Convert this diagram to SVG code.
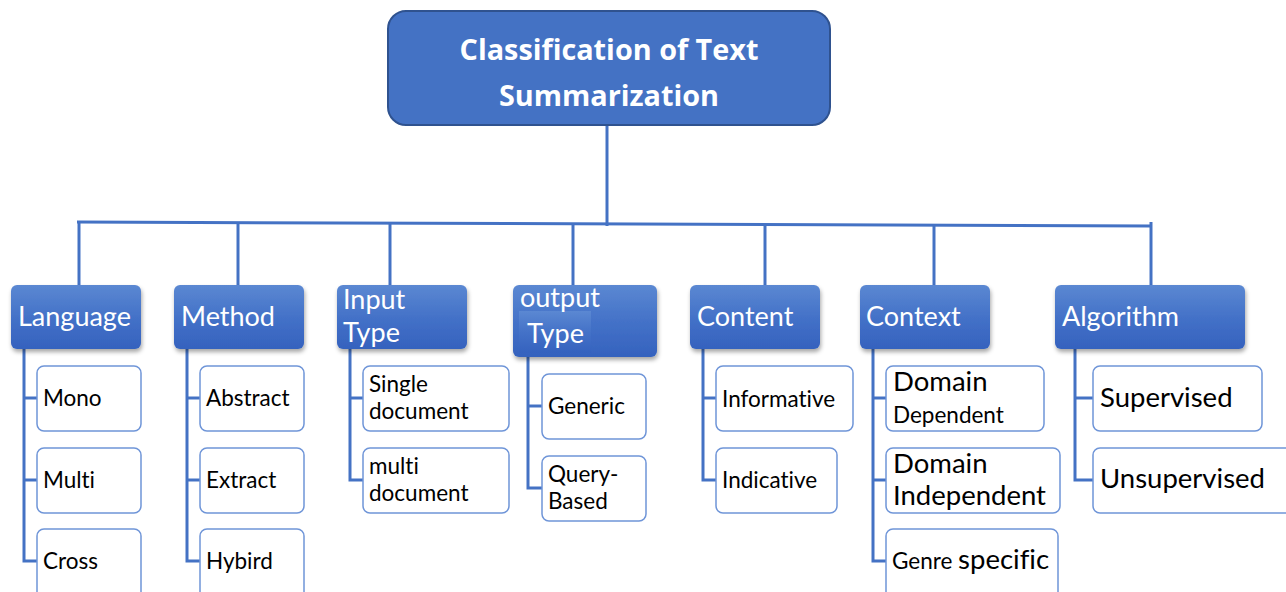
<svg xmlns="http://www.w3.org/2000/svg" width="1286" height="592" viewBox="0 0 1286 592">
  <defs>
    <linearGradient id="hdrGrad" x1="0" y1="0" x2="0" y2="1">
      <stop offset="0" stop-color="#5b88d2"/>
      <stop offset="0.5" stop-color="#4472c8"/>
      <stop offset="1" stop-color="#3562be"/>
    </linearGradient>
    <filter id="shadow" x="-10%" y="-10%" width="130%" height="140%">
      <feDropShadow dx="1" dy="3" stdDeviation="2" flood-color="#000" flood-opacity="0.35"/>
    </filter>
  </defs>
  <style>
    text { font-variant-ligatures: none; }
    .root rect { fill: #4472c4; stroke: #2f528f; stroke-width: 2; }
    .root text { fill: #ffffff; font-family: "Open Sans", "Liberation Sans", sans-serif; font-weight: bold; font-size: 28.8px; text-anchor: middle; }
    .hdr rect { fill: url(#hdrGrad); filter: url(#shadow); }
    .hdr text { fill: #ffffff; font-family: Lato, "Liberation Sans", sans-serif; font-size: 27px; }
    .leaf rect { fill: #ffffff; stroke: #6f95d8; stroke-width: 1.5; }
    .leaf text { fill: #000000; font-family: Lato, "Liberation Sans", sans-serif; font-size: 22.5px; }
    .leaf .big { font-size: 27.5px; }
    .conn line, .conn polyline { stroke: #4472c4; stroke-width: 3; fill: none; }
  </style>
  <rect width="1286" height="592" fill="#ffffff"/>

  <!-- connectors -->
  <g id="connectors" class="conn">
    <line x1="607" y1="125" x2="607" y2="226"/>
    <line x1="77" y1="222" x2="1152" y2="226" stroke-width="4"/>
    <line x1="79" y1="222" x2="79" y2="286"/>
    <line x1="238" y1="223" x2="238" y2="286"/>
    <line x1="390" y1="223" x2="390" y2="286"/>
    <line x1="573" y1="224" x2="573" y2="286"/>
    <line x1="765" y1="225" x2="765" y2="286"/>
    <line x1="934" y1="225" x2="934" y2="286"/>
    <line x1="1151" y1="222" x2="1151" y2="286"/>
    <!-- Language -->
    <polyline points="24,349 24,561 37,561"/>
    <line x1="24" y1="398" x2="37" y2="398"/>
    <line x1="24" y1="480" x2="37" y2="480"/>
    <!-- Method -->
    <polyline points="187,349 187,561 200,561"/>
    <line x1="187" y1="398" x2="200" y2="398"/>
    <line x1="187" y1="480" x2="200" y2="480"/>
    <!-- Input Type -->
    <polyline points="350,349 350,480 363,480"/>
    <line x1="350" y1="398" x2="363" y2="398"/>
    <!-- output Type -->
    <polyline points="528,357 528,488 542,488"/>
    <line x1="528" y1="406" x2="542" y2="406"/>
    <!-- Content -->
    <polyline points="703,349 703,480 716,480"/>
    <line x1="703" y1="398" x2="716" y2="398"/>
    <!-- Context -->
    <polyline points="873,349 873,561 886,561"/>
    <line x1="873" y1="398" x2="886" y2="398"/>
    <line x1="873" y1="480" x2="886" y2="480"/>
    <!-- Algorithm -->
    <polyline points="1075,349 1075,480 1093,480"/>
    <line x1="1075" y1="398" x2="1093" y2="398"/>
  </g>

  <!-- root -->
  <g id="root" class="root">
    <rect x="388" y="11" width="442" height="114" rx="18"/>
    <text x="609" y="60">Classification of Text</text>
    <text x="609" y="106">Summarization</text>
  </g>

  <!-- category headers -->
  <g id="language" class="hdr">
    <rect x="11" y="285" width="130" height="64" rx="6"/>
    <text x="18" y="326">Language</text>
  </g>
  <g id="method" class="hdr">
    <rect x="174" y="285" width="130" height="64" rx="6"/>
    <text x="181" y="326">Method</text>
  </g>
  <g id="input-type" class="hdr">
    <rect x="337" y="285" width="130" height="64" rx="6"/>
    <text x="343" y="309">Input</text>
    <text x="343" y="342">Type</text>
  </g>
  <g id="output-type" class="hdr">
    <rect x="513" y="285" width="144" height="72" rx="6"/>
    <rect x="519" y="311" width="72" height="42" fill="#4270c6" style="filter:none"/>
    <text x="520" y="307">output</text>
    <text x="527" y="343">Type</text>
  </g>
  <g id="content" class="hdr">
    <rect x="690" y="285" width="130" height="64" rx="6"/>
    <text x="697" y="326">Content</text>
  </g>
  <g id="context" class="hdr">
    <rect x="860" y="285" width="130" height="64" rx="6"/>
    <text x="866" y="326">Context</text>
  </g>
  <g id="algorithm" class="hdr">
    <rect x="1055" y="285" width="190" height="64" rx="6"/>
    <text x="1062" y="326">Algorithm</text>
  </g>

  <!-- leaves: Language -->
  <g id="mono" class="leaf">
    <rect x="37" y="366" width="104" height="65" rx="7"/>
    <text x="43" y="406">Mono</text>
  </g>
  <g id="multi" class="leaf">
    <rect x="37" y="448" width="104" height="65" rx="7"/>
    <text x="43" y="488">Multi</text>
  </g>
  <g id="cross" class="leaf">
    <rect x="37" y="529" width="104" height="70" rx="7"/>
    <text x="43" y="569">Cross</text>
  </g>

  <!-- leaves: Method -->
  <g id="abstract" class="leaf">
    <rect x="200" y="366" width="104" height="65" rx="7"/>
    <text x="206" y="406">Abstract</text>
  </g>
  <g id="extract" class="leaf">
    <rect x="200" y="448" width="104" height="65" rx="7"/>
    <text x="206" y="488">Extract</text>
  </g>
  <g id="hybird" class="leaf">
    <rect x="200" y="529" width="104" height="70" rx="7"/>
    <text x="206" y="569">Hybird</text>
  </g>

  <!-- leaves: Input Type -->
  <g id="single-document" class="leaf">
    <rect x="363" y="366" width="146" height="65" rx="7"/>
    <text x="369" y="392">Single</text>
    <text x="369" y="419">document</text>
  </g>
  <g id="multi-document" class="leaf">
    <rect x="363" y="448" width="146" height="65" rx="7"/>
    <text x="369" y="474">multi</text>
    <text x="369" y="501">document</text>
  </g>

  <!-- leaves: output Type -->
  <g id="generic" class="leaf">
    <rect x="542" y="374" width="104" height="65" rx="7"/>
    <text x="548" y="414">Generic</text>
  </g>
  <g id="query-based" class="leaf">
    <rect x="542" y="456" width="104" height="65" rx="7"/>
    <text x="548" y="482">Query-</text>
    <text x="548" y="509">Based</text>
  </g>

  <!-- leaves: Content -->
  <g id="informative" class="leaf">
    <rect x="716" y="366" width="137" height="65" rx="7"/>
    <text x="722" y="407">Informative</text>
  </g>
  <g id="indicative" class="leaf">
    <rect x="716" y="448" width="121" height="65" rx="7"/>
    <text x="722" y="488">Indicative</text>
  </g>

  <!-- leaves: Context -->
  <g id="domain-dependent" class="leaf">
    <rect x="886" y="366" width="158" height="65" rx="7"/>
    <text x="893" y="391" class="big">Domain</text>
    <text x="893" y="423">Dependent</text>
  </g>
  <g id="domain-independent" class="leaf">
    <rect x="886" y="448" width="174" height="65" rx="7"/>
    <text x="893" y="473" class="big">Domain</text>
    <text x="893" y="505" class="big">Independent</text>
  </g>
  <g id="genre-specific" class="leaf">
    <rect x="886" y="529" width="172" height="70" rx="7"/>
    <text x="892" y="569"><tspan>Genre </tspan><tspan class="big">specific</tspan></text>
  </g>

  <!-- leaves: Algorithm -->
  <g id="supervised" class="leaf">
    <rect x="1093" y="366" width="169" height="65" rx="7"/>
    <text x="1100" y="407" class="big">Supervised</text>
  </g>
  <g id="unsupervised" class="leaf">
    <rect x="1093" y="448" width="200" height="65" rx="7"/>
    <text x="1100" y="488" class="big">Unsupervised</text>
  </g>
</svg>
